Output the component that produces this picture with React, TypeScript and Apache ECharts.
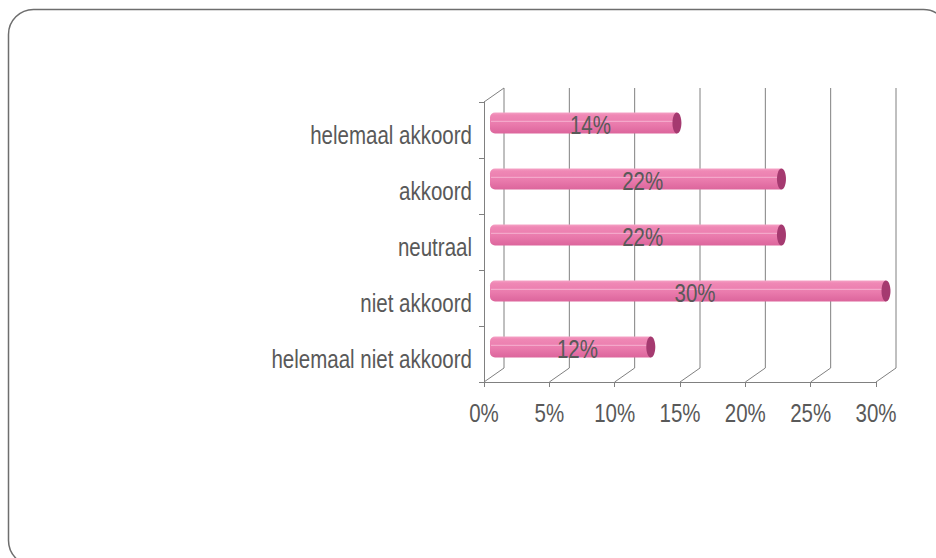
import React, { useEffect, useRef } from "react";
import * as echarts from "echarts";

const categories = ["helemaal akkoord", "akkoord", "neutraal", "niet akkoord", "helemaal niet akkoord"];
const values = [14, 22, 22, 30, 12];
const xTicks = [0, 5, 10, 15, 20, 25, 30];

const DX = 20;
const DY = -14;
const FONT = "'Liberation Sans', Arial, sans-serif";
const FS = 25;
const SX = 0.82;
const TEXT = "#595959";
const AXIS = "#808080";

export default function App() {
  const ref = useRef<HTMLDivElement>(null);
  useEffect(() => {
    const chart = echarts.init(ref.current!, null, { renderer: "svg" });
    const barGradient = new echarts.graphic.LinearGradient(0, 0, 0, 1, [
      { offset: 0, color: "#f5a3c6" },
      { offset: 0.12, color: "#ef88b5" },
      { offset: 0.55, color: "#ea7bad" },
      { offset: 1, color: "#dc659c" },
    ]);
    const textStyle = (t: string, align: string) => ({
      text: t,
      fill: TEXT,
      fontSize: FS,
      fontFamily: FONT,
      align,
      verticalAlign: "middle",
    });
    chart.setOption({
      animation: false,
      backgroundColor: "#ffffff",
      graphic: [
        {
          type: "rect",
          shape: { x: 8.5, y: 9.5, width: 940, height: 556, r: 25 },
          style: { fill: "none", stroke: "#6e6e6e", lineWidth: 1.5 },
          z: -1,
        },
      ],
      grid: { left: 484, right: 60, top: 102, bottom: 176 },
      xAxis: {
        type: "value",
        min: 0,
        max: 30,
        interval: 5,
        axisLine: { show: true, lineStyle: { color: AXIS } },
        axisTick: { show: true, length: 5, lineStyle: { color: AXIS } },
        splitLine: { show: false },
        axisLabel: { show: false },
      },
      yAxis: {
        type: "category",
        data: categories,
        inverse: true,
        axisLine: { show: true, lineStyle: { color: AXIS } },
        axisTick: { show: true, length: 5, lineStyle: { color: AXIS } },
        splitLine: { show: false },
        axisLabel: { show: false },
      },
      series: [
        {
          type: "custom",
          name: "frame",
          z: 1,
          silent: true,
          encode: { x: 0, y: 1 },
          data: xTicks.map((v) => [v, 0]),
          renderItem: (params: any, api: any) => {
            const v = api.value(0);
            const cs = params.coordSys;
            const x = api.coord([v, 0])[0];
            const top = cs.y;
            const bottom = cs.y + cs.height;
            const ls = { stroke: AXIS, lineWidth: 1 };
            const children: any[] = [
              { type: "line", shape: { x1: x + DX, y1: top + DY, x2: x + DX, y2: bottom + DY }, style: ls },
              { type: "line", shape: { x1: x, y1: bottom, x2: x + DX, y2: bottom + DY }, style: ls },
              { type: "text", x: x, y: bottom + 31, scaleX: SX, style: textStyle(v + "%", "center") },
            ];
            if (v === xTicks[0]) {
              children.push({ type: "line", shape: { x1: x, y1: top, x2: x + DX, y2: top + DY }, style: ls });
            }
            return { type: "group", children };
          },
        },
        {
          type: "custom",
          name: "categoryLabels",
          z: 2,
          silent: true,
          encode: { x: 0, y: 1 },
          data: categories.map((c, i) => [0, i]),
          renderItem: (params: any, api: any) => {
            const i = api.value(1);
            const p = api.coord([0, i]);
            return {
              type: "text",
              x: p[0] - 12,
              y: p[1] + 5,
              scaleX: SX,
              style: textStyle(categories[i], "right"),
            };
          },
        },
        {
          type: "custom",
          name: "bars",
          z: 3,
          encode: { x: 0, y: 1 },
          data: values.map((v, i) => [v, i]),
          renderItem: (params: any, api: any) => {
            const v = api.value(0);
            const i = api.value(1);
            const p0 = api.coord([0, i]);
            const p1 = api.coord([v, i]);
            const h = 21;
            const x0 = p0[0] + DX / 2;
            const x1 = p1[0] + DX / 2;
            const cy = p0[1] + DY / 2;
            const y0 = cy - h / 2;
            return {
              type: "group",
              children: [
                {
                  type: "rect",
                  shape: { x: x0 - 4, y: y0, width: x1 - x0 + 4, height: h, r: [5, 0, 0, 5] },
                  style: { fill: barGradient },
                },
                {
                  type: "line",
                  shape: { x1: x0 - 3, y1: y0 + h * 0.42, x2: x1, y2: y0 + h * 0.42 },
                  style: { stroke: "rgba(255,220,235,0.55)", lineWidth: 1 },
                },
                {
                  type: "ellipse",
                  shape: { cx: x1, cy: cy, rx: 4.5, ry: h / 2 },
                  style: { fill: "#a53a70" },
                },
                {
                  type: "text",
                  x: (x0 + x1) / 2 + 5,
                  y: cy + 2,
                  scaleX: SX,
                  style: textStyle(v + "%", "center"),
                },
              ],
            };
          },
        },
      ],
    });
    return () => chart.dispose();
  }, []);
  return <div ref={ref} style={{ position: "absolute", left: 0, top: 0, width: 936, height: 558 }} />;
}
